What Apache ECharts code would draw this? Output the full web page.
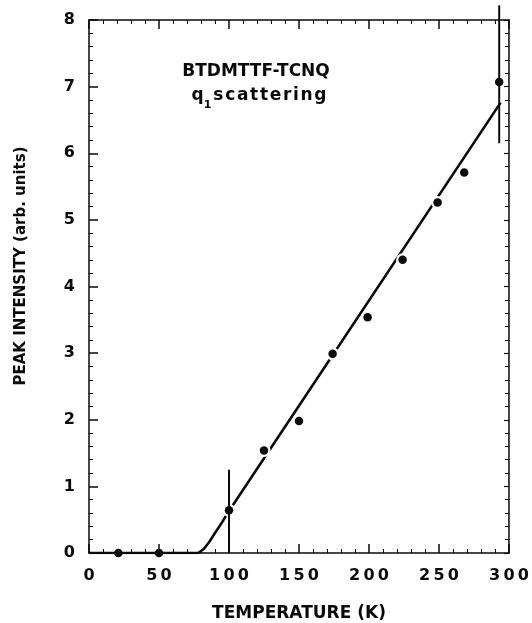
<!DOCTYPE html>
<html>
<head>
<meta charset="utf-8">
<script src="https://cdn.jsdelivr.net/npm/echarts@6/dist/echarts.min.js"></script>
<style>
  html, body { margin: 0; padding: 0; background: #fff; }
  #chart { width: 532px; height: 623px; }
</style>
</head>
<body>
<div id="chart"></div>
<script>
// measured points
let ptX = [21, 50, 100, 125, 150, 174, 199, 224, 249, 268, 293];
let ptY = [0, 0, 0.64, 1.54, 1.98, 2.99, 3.54, 4.40, 5.26, 5.71, 7.07];

// fitted curve (flat, then linear rise)
let fitX = [0, 78, 82, 86, 90, 95, 100, 294];
let fitY = [0, 0, 0.06, 0.17, 0.30, 0.46, 0.63, 6.76];

// error bars
let errX = [100, 293];
let errLo = [0, 6.15];
let errHi = [1.25, 8.22];

let xTicks = [0, 50, 100, 150, 200, 250, 300];
let yTicks = [0, 1, 2, 3, 4, 5, 6, 7, 8];

let font = "DejaVu Sans";
let ink = "#0a0a0a";

let chart = echarts.init(document.getElementById("chart"));

let pts = ptX.map((x, i) => [x, ptY[i]]);
let halo = pts.slice(2);
let fit = fitX.map((x, i) => [x, fitY[i]]);
let errs = errX.map((x, i) => [x, errLo[i], errHi[i]]);

let spaced = (v, sep) => String(v).split("").join(sep);

let baseAxis = {
  min: 0,
  axisLine: { show: true, onZero: false, lineStyle: { color: ink, width: 1.5 } },
  splitLine: { show: false },
  axisTick: { show: true, inside: true, length: 9, lineStyle: { color: ink, width: 1.5 } },
  minorTick: { show: true, splitNumber: 5, length: 4, lineStyle: { color: ink, width: 1 } },
};

chart.setOption({
  animation: false,
  backgroundColor: "#fff",
  grid: { left: 89, right: 23, top: 20, bottom: 70, outerBoundsMode: "none", containLabel: false },
  xAxis: [
    Object.assign({}, baseAxis, {
      type: "value", max: 300, interval: 50, position: "bottom",
      axisLabel: {
        margin: 15, color: ink, fontFamily: font, fontWeight: "bold", fontSize: 16,
        formatter: (v) => xTicks.includes(v) ? spaced(v, "\u2009") : ""
      },
      name: "TEMPERATURE (K)", nameLocation: "middle", nameGap: 52,
      nameTextStyle: { color: ink, fontFamily: font, fontWeight: "bold", fontSize: 17 }
    }),
    Object.assign({}, baseAxis, {
      type: "value", max: 300, interval: 50, position: "top",
      axisLabel: { show: false }
    })
  ],
  yAxis: [
    Object.assign({}, baseAxis, {
      type: "value", max: 8, interval: 1, position: "left",
      axisLabel: {
        margin: 14, color: ink, fontFamily: font, fontWeight: "bold", fontSize: 16,
        formatter: (v) => yTicks.includes(v) ? String(v) : ""
      }
    }),
    Object.assign({}, baseAxis, {
      type: "value", max: 8, interval: 1, position: "right",
      axisTick: { show: true, inside: true, length: 5, lineStyle: { color: ink, width: 1.2 } },
      axisLabel: { show: false }
    })
  ],
  graphic: [
    {
      type: "text", x: 21, y: 266, rotation: Math.PI / 2,
      style: {
        text: "PEAK INTENSITY (arb. units)", fill: ink,
        font: "bold 15px '" + font + "'", align: "center", verticalAlign: "middle"
      }
    },
    {
      type: "text", x: 256, y: 72,
      style: {
        text: "BTDMTTF-TCNQ", fill: ink,
        font: "bold 17px '" + font + "'", align: "center", verticalAlign: "middle"
      }
    },
    {
      type: "text", x: 259, y: 96,
      style: {
        text: "{q|q}{s|1}{q|" + spaced("scattering", "\u200a") + "}",
        align: "center", verticalAlign: "middle",
        rich: {
          q: { fill: ink, fontFamily: font, fontWeight: "bold", fontSize: 17 },
          s: { fill: ink, fontFamily: font, fontWeight: "bold", fontSize: 11, padding: [18, 2, 0, 0] }
        }
      }
    }
  ],
  series: [
    {
      type: "line", data: fit, showSymbol: false, z: 2,
      lineStyle: { color: ink, width: 2.6 }
    },
    {
      type: "scatter", data: halo, symbolSize: 13, z: 3,
      itemStyle: { color: "#fff", opacity: 1 }, silent: true
    },
    {
      type: "scatter", data: pts, symbolSize: 8.5, z: 4,
      itemStyle: { color: ink, opacity: 1 }
    },
    {
      type: "custom", data: errs, z: 5, clip: false,
      renderItem: (params, api) => {
        let a = api.coord([api.value(0), api.value(1)]);
        let b = api.coord([api.value(0), api.value(2)]);
        return {
          type: "line",
          shape: { x1: a[0], y1: a[1], x2: b[0], y2: b[1] },
          style: { stroke: ink, lineWidth: 2 }
        };
      }
    }
  ]
});
</script>
</body>
</html>
